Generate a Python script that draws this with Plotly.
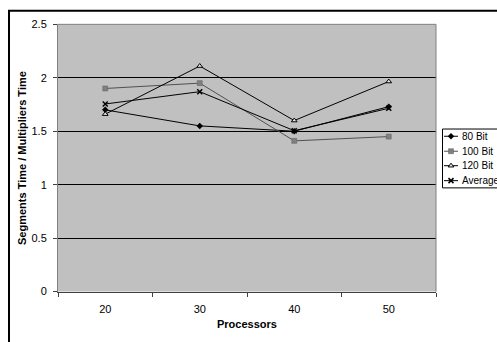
import plotly.graph_objects as go

W, H = 497, 342

categories = ["20", "30", "40", "50"]
series_names = ["80 Bit", "100 Bit", "120 Bit", "Average"]
bit80 = [1.70, 1.55, 1.50, 1.73]
bit100 = [1.90, 1.95, 1.41, 1.45]
bit120 = [1.66, 2.11, 1.60, 1.965]
average = [1.755, 1.87, 1.505, 1.715]
y_ticks = [0, 0.5, 1, 1.5, 2, 2.5]
y_tick_labels = ["0", "0.5", "1", "1.5", "2", "2.5"]

FONT = "Arial, Liberation Sans, sans-serif"

# plot area in pixels
PL, PR, PT, PB = 58, 436, 19, 296

def px(x):
    return x / W

def py(y):
    return 1 - y / H

styles = [
    dict(line=dict(color="black", width=1),
         marker=dict(symbol="diamond", size=5, color="black", line=dict(width=0))),
    dict(line=dict(color="#505050", width=1),
         marker=dict(symbol="square", size=5, color="#7f7f7f", line=dict(color="#606060", width=0.5))),
    dict(line=dict(color="black", width=1),
         marker=dict(symbol="triangle-up", size=5, color="#e8e8e8", line=dict(color="black", width=1))),
    dict(line=dict(color="black", width=1),
         marker=dict(symbol="x-thin", size=5, color="black", line=dict(color="black", width=1.5))),
]

data = [bit80, bit100, bit120, average]

fig = go.Figure()
for name, vals, st in zip(series_names, data, styles):
    fig.add_trace(go.Scatter(x=categories, y=vals, name=name, mode="lines+markers",
                             line=st["line"], marker=st["marker"], showlegend=False,
                             xaxis="x", yaxis="y", cliponaxis=False))

# custom legend on an overlay pixel axis
leg_y = [135, 150.5, 165.5, 181]
annotations = []
for name, st, yy in zip(series_names, styles, leg_y):
    fig.add_trace(go.Scatter(x=[444, 451, 458], y=[yy, yy, yy], mode="lines+markers",
                             line=st["line"],
                             marker=dict(st["marker"], opacity=[0, 1, 0]),
                             showlegend=False, xaxis="x2", yaxis="y2", hoverinfo="skip"))
    annotations.append(dict(x=460, y=yy, xref="x2", yref="y2", text=name, showarrow=False,
                            xanchor="left", yanchor="middle",
                            font=dict(family=FONT, size=10, color="black")))

annotations.append(dict(x=px(22), y=py((PT + PB) / 2), xref="paper", yref="paper",
                        text="<b>Segments Time / Multipliers Time</b>", textangle=-90,
                        showarrow=False, xanchor="center", yanchor="middle",
                        font=dict(family=FONT, size=11, color="black")))
annotations.append(dict(x=px((PL + PR) / 2), y=py(330), xref="paper", yref="paper",
                        text="<b>Processors</b>", showarrow=False,
                        xanchor="center", yanchor="middle",
                        font=dict(family=FONT, size=11, color="black")))

shapes = [
    # plot area background
    dict(type="rect", xref="paper", yref="paper", x0=px(PL), x1=px(PR), y0=py(PB), y1=py(PT),
         fillcolor="#C0C0C0", line=dict(width=0), layer="below"),
    # plot area top/right border (gray)
    dict(type="line", xref="paper", yref="paper", x0=px(PL), x1=px(PR), y0=py(PT), y1=py(PT),
         line=dict(color="#808080", width=1), layer="above"),
    dict(type="line", xref="paper", yref="paper", x0=px(PR), x1=px(PR), y0=py(PT), y1=py(PB),
         line=dict(color="#808080", width=1), layer="above"),
    # outer chart border
    dict(type="rect", xref="paper", yref="paper", x0=px(9), x1=px(520), y0=py(360), y1=py(5),
         line=dict(color="black", width=2), fillcolor="rgba(0,0,0,0)", layer="above"),
    # legend box
    dict(type="rect", xref="paper", yref="paper", x0=px(442.5), x1=px(520), y0=py(188.5), y1=py(127.5),
         line=dict(color="black", width=1), fillcolor="white", layer="below"),
]

fig.update_layout(
    width=W, height=H,
    margin=dict(l=0, r=0, t=0, b=0),
    paper_bgcolor="white",
    plot_bgcolor="rgba(0,0,0,0)",
    font=dict(family=FONT, size=11, color="black"),
    showlegend=False,
    shapes=shapes,
    annotations=annotations,
    xaxis=dict(domain=[px(PL), px(PR)], type="category", categoryorder="array",
               categoryarray=categories, range=[-0.5, 3.5],
               tickson="boundaries", ticks="outside", ticklen=4, tickcolor="#404040",
               showline=True, linecolor="#404040", linewidth=1, showgrid=False,
               ticklabelstandoff=7,
               tickfont=dict(family=FONT, size=11, color="black"), fixedrange=True,
               anchor="y"),
    yaxis=dict(domain=[py(PB), py(PT)], range=[0, 2.5], tickvals=y_ticks, ticktext=y_tick_labels,
               ticks="outside", ticklen=4, tickcolor="#404040",
               showline=True, linecolor="#808080", linewidth=1,
               showgrid=True, gridcolor="black", gridwidth=1, zeroline=False,
               ticklabelstandoff=4,
               tickfont=dict(family=FONT, size=11, color="black"), fixedrange=True,
               anchor="x"),
    xaxis2=dict(domain=[0, 1], range=[0, W], visible=False, anchor="y2", fixedrange=True),
    yaxis2=dict(domain=[0, 1], range=[H, 0], visible=False, anchor="x2", fixedrange=True),
)

fig.write_html("out.html")
